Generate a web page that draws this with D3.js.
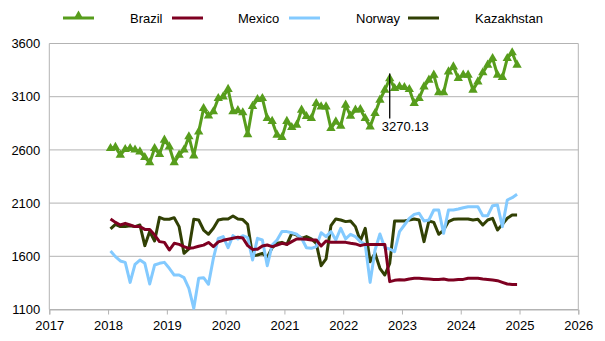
<!DOCTYPE html>
<html><head><meta charset="utf-8">
<script src="https://cdn.jsdelivr.net/npm/d3@7/dist/d3.min.js"></script>
<style>body{margin:0;background:#fff}svg{display:block;font-family:"Liberation Sans",Arial,sans-serif}</style>
</head><body><svg id="c" width="605" height="341"></svg>
<script>
const years = [2018, 2019, 2020, 2021, 2022, 2023, 2024];
const monthsOfYear = [1,2,3,4,5,6,7,8,9,10,11,12];
const seriesNames = ["Brazil", "Mexico", "Norway", "Kazakhstan"];
const brazil = [2615,2625,2552,2605,2615,2600,2583,2530,2480,2615,2558,2693,2630,2480,2552,2600,2725,2545,2770,2990,2920,2960,3085,3100,3170,2960,2970,2950,2745,3010,3075,3085,2897,2870,2740,2718,2870,2812,2834,2975,2915,2897,3038,3006,3006,2803,2865,2825,3022,2919,2975,2981,2897,2818,2944,3069,3163,3270.13,3179,3194,3188,3169,3038,3085,3194,3257,3304,3138,3138,3335,3382,3272,3304,3304,3163,3241,3326,3398,3461,3304,3282,3461,3514,3398];
const mexico = [1951,1919,1894,1910,1894,1879,1879,1853,1853,1800,1738,1731,1659,1722,1712,1691,1675,1681,1695,1705,1730,1691,1735,1750,1760,1770,1780,1772,1700,1665,1666,1697,1706,1691,1705,1722,1712,1738,1763,1763,1760,1753,1753,1697,1744,1731,1731,1731,1731,1722,1716,1700,1712,1712,1712,1712,1712,1362,1374,1380,1377,1387,1393,1393,1390,1387,1383,1383,1387,1377,1377,1383,1383,1393,1393,1393,1387,1383,1377,1371,1355,1340,1336,1336];
const norway = [1650,1597,1556,1543,1355,1525,1565,1534,1340,1518,1534,1543,1487,1424,1424,1399,1299,1111,1393,1399,1337,1581,1769,1785,1681,1794,1763,1794,1775,1565,1769,1753,1512,1706,1753,1832,1832,1822,1807,1769,1681,1675,1691,1822,1785,1832,1753,1863,1763,1807,1785,1738,1712,1355,1659,1810,1680,1669,1644,1832,1894,1957,1994,2004,1932,1941,2035,2035,1816,2035,2035,2045,2057,2066,2066,2066,1982,1982,2076,2082,1879,2129,2151,2183];
const kazakhstan = [1857,1900,1879,1879,1888,1879,1894,1700,1832,1744,1966,1948,1948,1963,1879,1628,1669,1948,1941,1847,1807,1863,1941,1951,1951,1979,1951,1945,1900,1606,1612,1628,1590,1681,1722,1731,1712,1816,1800,1769,1785,1763,1722,1512,1575,1888,1951,1941,1926,1932,1879,1744,1863,1549,1628,1487,1424,1534,1932,1932,1932,1941,1951,1941,1738,1932,1919,1807,1847,1926,1948,1951,1951,1951,1941,1948,1894,1941,1957,1847,1900,1957,1988,1988];
const yTicks = [1100, 1600, 2100, 2600, 3100, 3600];
const xTicks = [2017, 2018, 2019, 2020, 2021, 2022, 2023, 2024, 2025, 2026];
const annotationIndex = 57;
const annotationLabel = "3270.13";

const colors = {Brazil:"#579d1c", Mexico:"#7e0021", Norway:"#83caff", Kazakhstan:"#314004"};
const dates = [];
years.forEach(y => monthsOfYear.forEach(m => dates.push(y + (m - 0.5) / 12)));
const data = {Brazil: brazil, Mexico: mexico, Norway: norway, Kazakhstan: kazakhstan};

const svg = d3.select("#c");
const x = d3.scaleLinear().domain([2017, 2026]).range([49.3, 578.3]);
const y = d3.scaleLinear().domain([1100, 3600]).range([309.5, 43.5]);
const grid = "#b3b3b3";

svg.append("g").selectAll("line").data(yTicks).join("line")
  .attr("x1", x(2017)).attr("x2", x(2026))
  .attr("y1", d => y(d)).attr("y2", d => y(d))
  .attr("stroke", grid).attr("stroke-width", 1);
[2017, 2026].forEach(v => svg.append("line").attr("x1", x(v)).attr("x2", x(v))
  .attr("y1", y(3600)).attr("y2", y(1100)).attr("stroke", grid));

const yAxis = d3.axisLeft(y).tickValues(yTicks).tickSize(0).tickPadding(9).tickFormat(d3.format("d"));
const gy = svg.append("g").attr("transform", `translate(${x(2017)},0)`).call(yAxis);
gy.select(".domain").remove();
gy.selectAll("text").attr("font-size", 13).attr("fill", "#000").attr("font-family", "Liberation Sans, Arial, sans-serif");

const xAxis = d3.axisBottom(x).tickValues(xTicks).tickSize(5).tickPadding(6).tickFormat(d3.format("d"));
const gx = svg.append("g").attr("transform", `translate(0,${y(1100)})`).call(xAxis);
gx.select(".domain").attr("stroke", grid);
gx.selectAll(".tick line").attr("stroke", grid);
gx.selectAll("text").attr("font-size", 13).attr("fill", "#000").attr("font-family", "Liberation Sans, Arial, sans-serif");

const line = d3.line().x((d, i) => x(dates[i])).y(d => y(d));
["Kazakhstan", "Norway", "Mexico"].forEach(n => {
  svg.append("path").datum(data[n]).attr("d", line).attr("fill", "none")
    .attr("stroke", colors[n]).attr("stroke-width", 3).attr("stroke-linejoin", "round");
});
svg.append("path").datum(brazil).attr("d", line).attr("fill", "none")
  .attr("stroke", colors.Brazil).attr("stroke-width", 3).attr("stroke-linejoin", "round");
const tri = d3.symbol().type(d3.symbolTriangle).size(38);
svg.append("g").selectAll("path").data(brazil).join("path")
  .attr("d", tri).attr("transform", (d, i) => `translate(${x(dates[i])},${y(d)})`)
  .attr("fill", colors.Brazil);

const ax = x(dates[annotationIndex]), ay = y(brazil[annotationIndex]);
svg.append("line").attr("x1", ax).attr("x2", ax).attr("y1", ay - 5).attr("y2", ay + 40)
  .attr("stroke", "#000").attr("stroke-width", 1.3);
svg.append("text").attr("x", ax - 8).attr("y", ay + 52).attr("font-size", 13)
  .attr("fill", "#000").text(annotationLabel);

const legendItems = [
  {name: "Brazil", sx: 63, tx: 130},
  {name: "Mexico", sx: 172, tx: 238},
  {name: "Norway", sx: 289, tx: 356},
  {name: "Kazakhstan", sx: 408, tx: 475}
];
const lg = svg.append("g");
legendItems.forEach(it => {
  lg.append("line").attr("x1", it.sx).attr("x2", it.sx + 31).attr("y1", 18).attr("y2", 18)
    .attr("stroke", colors[it.name]).attr("stroke-width", 3);
  if (it.name === "Brazil") {
    lg.append("path").attr("d", tri).attr("transform", `translate(${it.sx + 15.5},16)`).attr("fill", colors.Brazil);
  }
  lg.append("text").attr("x", it.tx).attr("y", 22.5).attr("font-size", 13).attr("fill", "#000").text(it.name);
});
</script></body></html>
